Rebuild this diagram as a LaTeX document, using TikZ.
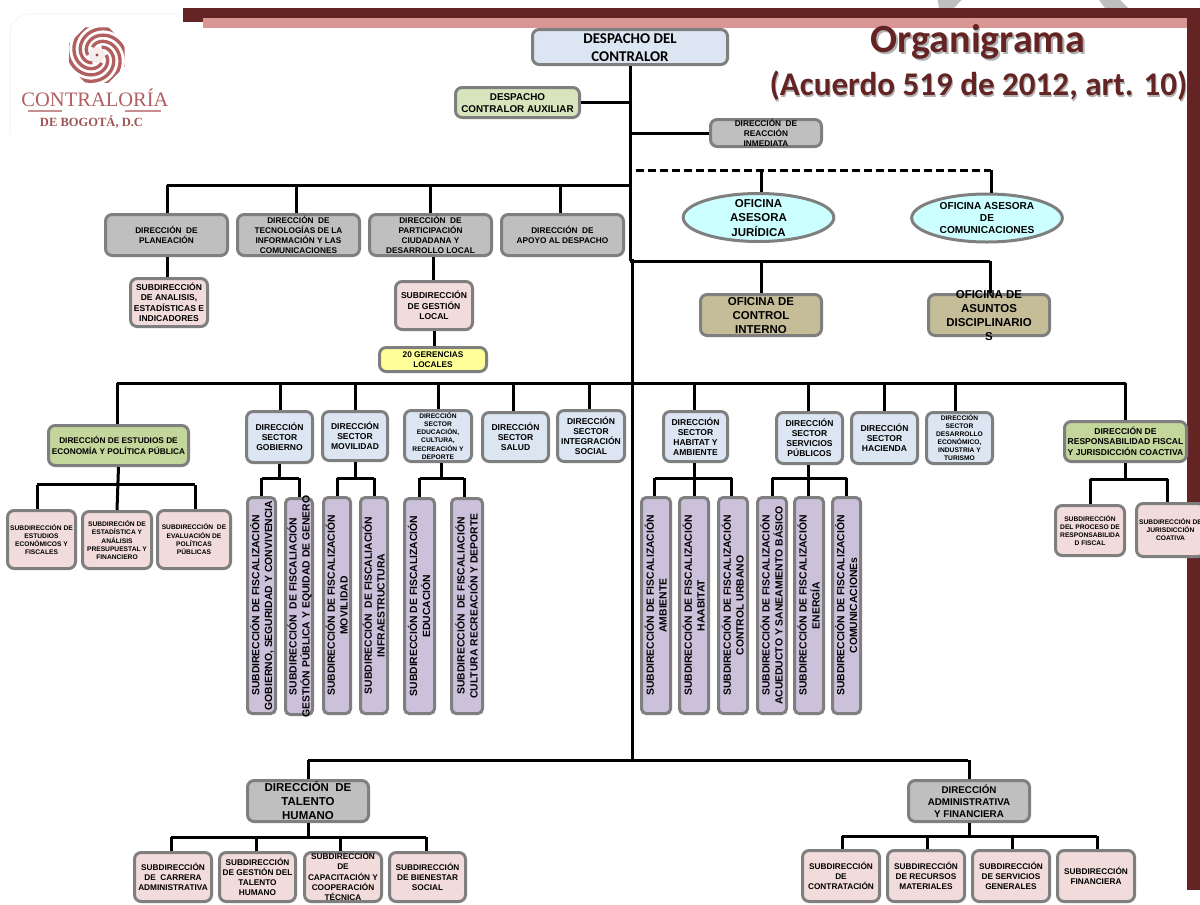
\documentclass[tikz,border=0pt]{standalone}
\usepackage{fontspec}
\usepackage{graphicx}
\setmainfont{Liberation Sans}
\newfontfamily\carlito{Carlito}
\newfontfamily\lserif{Liberation Serif}
\usetikzlibrary{shapes.geometric}
\definecolor{dark}{HTML}{632423}
\definecolor{rose}{HTML}{D99694}
\definecolor{cblue}{HTML}{DCE6F2}
\definecolor{cpink}{HTML}{F2DCDB}
\definecolor{cgreen}{HTML}{C3D69B}
\definecolor{clgreen}{HTML}{D7E4BC}
\definecolor{cgrey}{HTML}{BFBFBF}
\definecolor{cpurple}{HTML}{CCC1DA}
\definecolor{ctan}{HTML}{C4BD97}
\definecolor{ccyan}{HTML}{CCFFFF}
\definecolor{cyell}{HTML}{FFFF99}
\definecolor{cedge}{HTML}{7F7F7F}
\definecolor{logoc}{HTML}{B25F5F}
\newcommand\fz[2]{\fontsize{#1}{#2}\selectfont\bfseries}
\newcommand\tx[1]{\makebox[0pt]{\smash{\raisebox{-.4em}{\begin{tabular}{@{}c@{}}#1\end{tabular}}}}}
\newcommand\bx[7][]{\node[bxs,#1,minimum width={(#5-#3-3)*0.75pt},minimum height={(#6-#4-3)*0.75pt}] (#2) at ({(#3+#5)/2},{(#4+#6)/2}) {\tx{#7}};}
\newcommand\vb[6]{\node[bxs,vert,minimum width={(#4-#2-3)*0.75pt},minimum height={(#5-#3-3)*0.75pt}] (#1) at ({(#2+#4)/2},{(#3+#5)/2}) {\rotatebox{90}{\tx{#6}}};}
\newcommand\dr[3]{\draw[conn] ([xshift=#3*0.75pt]#2.north |- #1) -- ([xshift=#3*0.75pt]#2.north);}
\tikzset{
 bxs/.style={draw=cedge,line width=2.25pt,rounded corners=5pt,inner sep=0pt,text=black},
 vert/.style={fill=cpurple,rounded corners=3.5pt,font=\fontsize{7.8}{9.5}\selectfont\bfseries},
 conn/.style={draw=black,line width=2.25pt},
 sub/.style={fill=cpink},
 blue/.style={fill=cblue},
 grey/.style={fill=cgrey},
 fa/.style={font=\fz{6.2}{7.5}},
 fb/.style={font=\fz{5}{6}},
 fc/.style={font=\fz{8.6}{10.5}},
 fd/.style={font=\fz{6.4}{7.5}},
}
\begin{document}
\begin{tikzpicture}[x=0.75pt,y=-0.75pt]
\clip (0,0) rectangle (1200,904);
\fill[white] (0,0) rectangle (1200,904);
% top decoration
\fill[gray!50] (937.5,0) -- (961.5,0) -- (954,8) -- (939,8) -- cycle;
\fill[gray!50] (1099,0) -- (1120,0) -- (1128,8) -- (1105,8) -- cycle;
\fill[rose] (203,18) rectangle (1187,28);
\fill[dark] (183,8) rectangle (1200,18);
\fill[dark] (183,18) rectangle (203,22);
\fill[dark] (1187,8) rectangle (1200,890);
% logo
\draw[draw=red!20!orange!6,line width=1pt] (10,135) -- (10,35) .. controls (10,22) and (18,14) .. (32,14) -- (180,14);
\begin{scope}
\clip (97,55) ++(-22.5:30) -- ++(90:23) -- ++(135:23) -- ++(180:23) -- ++(225:23) -- ++(270:23) -- ++(315:23) -- ++(0:23) -- cycle;
\foreach \a in {0,60,...,300}{
  \draw[logoc,line width=2.5pt,shift={(97,55)}] plot[domain=0:260,samples=40,smooth] ({\a+\x}:{9+\x*0.11});
}
\end{scope}
\fill[logoc!12] (97,55) circle (8);
\fill[logoc!80!black] (97,55) circle (1.7);
\node[text=logoc,font=\lserif\fontsize{15.4}{18}\selectfont,inner sep=0pt] (logoa) at (95,98) {CONTRALORÍA};
\draw[logoc!70,line width=.8pt] (28,111) -- (62,111) (125,111) -- (161,111);
\node[text=logoc!90!black,font=\lserif\fontsize{9.4}{12}\selectfont\bfseries,inner sep=0pt] (logob) at (91.5,122) {DE BOGOTÁ, D.C};
% title
\node[text=gray!60,font=\carlito\fontsize{30}{33}\selectfont\bfseries,inner sep=0pt] (tits) at (979.5,43.5) {Organigrama};
\node[text=dark,font=\carlito\fontsize{30}{33}\selectfont\bfseries,inner sep=0pt] (tit) at (978,42) {Organigrama};
\node[text=gray!60,font=\carlito\fontsize{24.8}{27}\selectfont\bfseries,inner sep=0pt] (tit2s) at (979.5,87.5) {(Acuerdo 519 de 2012, art. 10)};
\node[text=dark,font=\carlito\fontsize{24.8}{27}\selectfont\bfseries,inner sep=0pt] (tit2) at (978.5,86) {(Acuerdo 519 de 2012, art. 10)};
% top nodes
\bx[blue,font=\carlito\fontsize{11.2}{13.5}\selectfont\bfseries]{desp}{531}{28}{729}{66}{DESPACHO DEL\\CONTRALOR}
\bx[fill=clgreen,font=\fz{7.4}{9}]{aux}{454}{86}{581}{119}{DESPACHO\\CONTRALOR AUXILIAR}
\bx[grey,fa]{reac}{709}{118}{823}{148}{DIRECCIÓN~ DE\\REACCIÓN\\INMEDIATA}
% row 1
\bx[grey,fa]{plan}{104}{213}{229}{257}{DIRECCIÓN~ DE\\PLANEACIÓN}
\bx[grey,fa]{tic}{236}{213}{361}{257}{DIRECCIÓN~ DE\\TECNOLOGÍAS DE LA\\INFORMACIÓN Y LAS\\COMUNICACIONES}
\bx[grey,fa]{part}{368}{213}{493}{257}{DIRECCIÓN~ DE\\PARTICIPACIÓN\\CIUDADANA Y\\DESARROLLO LOCAL}
\bx[grey,fa]{apoyo}{500}{213}{625}{257}{DIRECCIÓN~ DE\\APOYO AL DESPACHO}
\bx[sub,fd]{sana}{129}{277}{209}{328}{SUBDIRECCIÓN\\DE ANALISIS,\\ESTADÍSTICAS E\\INDICADORES}
\bx[sub,fd]{sges}{394}{280}{474}{331}{SUBDIRECCIÓN\\DE GESTIÓN\\LOCAL}
\bx[fill=cyell,fa]{ger}{378}{346}{488}{373}{20 GERENCIAS\\LOCALES}
% oficinas
\node[ellipse,draw=cedge,line width=2.25pt,fill=ccyan,inner sep=0pt,minimum width=113pt,minimum height=36pt,font=\fz{8.6}{10.5}] (jur) at (758.5,217.5) {\tx{OFICINA\\ASESORA\\JURÍDICA}};
\node[ellipse,draw=cedge,line width=2.25pt,fill=ccyan,inner sep=0pt,minimum width=113pt,minimum height=36pt,font=\fz{7.6}{9}] (com) at (987,218) {\tx{OFICINA ASESORA\\DE\\COMUNICACIONES}};
\bx[fill=ctan,fc]{cint}{699}{293}{823}{337}{OFICINA DE\\CONTROL\\INTERNO}
\bx[fill=ctan,fc]{asun}{927}{293}{1051}{337}{OFICINA DE\\ASUNTOS\\DISCIPLINARIO\\S}
% row 2
\bx[fill=cgreen,fa]{est}{47}{424}{190}{467}{DIRECCIÓN DE ESTUDIOS DE\\ECONOMÍA Y POLÍTICA PÚBLICA}
\bx[blue,fd]{gob}{245}{410}{314}{464}{DIRECCIÓN\\SECTOR\\GOBIERNO}
\bx[blue,fd]{mov}{321}{410}{389}{462}{DIRECCIÓN\\SECTOR\\MOVILIDAD}
\bx[blue,fb]{edu}{403}{409}{473}{463}{DIRECCIÓN\\SECTOR\\EDUCACIÓN,\\CULTURA,\\RECREACIÓN Y\\DEPORTE}
\bx[blue,fd]{sal}{481}{411}{550}{463}{DIRECCIÓN\\SECTOR\\SALUD}
\bx[blue,fd]{inte}{556}{409}{626}{463}{DIRECCIÓN\\SECTOR\\INTEGRACIÓN\\SOCIAL}
\bx[blue,fd]{hab}{662}{410}{729}{463}{DIRECCIÓN\\SECTOR\\HABITAT Y\\AMBIENTE}
\bx[blue,fd]{ser}{775}{411}{844}{465}{DIRECCIÓN\\SECTOR\\SERVICIOS\\PÚBLICOS}
\bx[blue,fd]{hac}{850}{411}{919}{465}{DIRECCIÓN\\SECTOR\\HACIENDA}
\bx[blue,fb]{des}{925}{411}{994}{465}{DIRECCIÓN\\SECTOR\\DESARROLLO\\ECONÓMICO,\\INDUSTRIA Y\\TURISMO}
\bx[fill=cgreen,fd]{resp}{1063}{420}{1188}{463}{DIRECCIÓN DE\\RESPONSABILIDAD FISCAL\\Y JURISDICCIÓN COACTIVA}
% subs estudios
\bx[sub,fb]{se1}{6}{509}{77}{570}{SUBDIRECCIÓN DE\\ESTUDIOS\\ECONÓMICOS Y\\FISCALES}
\bx[sub,fb]{se2}{81}{510}{153}{570}{SUBDIRECIÓN DE\\ESTADÍSTICA Y\\ANÁLISIS\\PRESUPUESTAL Y\\FINANCIERO}
\bx[sub,fb]{se3}{156}{509}{232}{570}{SUBDIRECCIÓN~ DE\\EVALUACIÓN DE\\POLÍTICAS\\PÚBLICAS}
% subs responsabilidad
\bx[sub,fb]{sr1}{1054}{504}{1126}{557}{SUBDIRECCIÓN\\DEL PROCESO DE\\RESPONSABILIDA\\D FISCAL}
\bx[sub,fb]{sr2}{1135}{502}{1206}{558}{SUBDIRECCIÓN DE\\JURISDICCIÓN\\COATIVA}
% vertical
\vb{v1}{246}{496}{277}{715}{SUBDIRECCIÓN DE FISCALIZACIÓN\\GOBIERNO, SEGURIDAD Y CONVIVENCIA}
\vb{v2}{284}{497}{314}{716}{SUBDIRECCIÓN~ DE FISCALIACIÓN\\GESTIÓN PÚBLICA Y EQUIDAD DE GENERO}
\vb{v3}{322}{496}{352}{715}{SUBDIRECCIÓN DE FISCALIZACIÓN\\MOVILIDAD}
\vb{v4}{359}{496}{389}{715}{SUBDIRECCIÓN~ DE FISCALIACIÓN\\INFRAESTRUCTURA}
\vb{v5}{403}{497}{436}{715}{SUBDIRECCIÓN DE FISCALIZACIÓN\\EDUCACIÓN}
\vb{v6}{450}{497}{484}{715}{SUBDIRECCIÓN~ DE FISCALIACIÓN\\CULTURA RECREACIÓN Y DEPORTE}
\vb{v7}{640}{496}{672}{715}{SUBDIRECCIÓN DE FISCALIZACIÓN\\AMBIENTE}
\vb{v8}{678}{496}{710}{715}{SUBDIRECCIÓN DE FISCALIZACIÓN\\HAABITAT}
\vb{v9}{717}{496}{749}{715}{SUBDIRECCIÓN DE FISCALIZACIÓN\\CONTROL URBANO}
\vb{v10}{756}{496}{788}{715}{SUBDIRECCIÓN DE FISCALIZACIÓN\\ACUEDUCTO Y SANEAMIENTO BÁSICO}
\vb{v11}{793}{496}{825}{715}{SUBDIRECCIÓN DE FISCALIZACIÓN\\ENERGÍA}
\vb{v12}{831}{496}{862}{715}{SUBDIRECCIÓN DE FISCALIZACIÓN\\COMUNICACIONEs}
% bottom
\bx[grey,fc]{tal}{246}{779}{370}{823}{DIRECCIÓN~ DE\\TALENTO\\HUMANO}
\bx[grey,font=\fz{7.35}{9}]{adm}{907}{779}{1031}{823}{DIRECCIÓN\\ADMINISTRATIVA\\Y FINANCIERA}
\bx[sub,fa]{t1}{133}{851}{213}{903}{SUBDIRECCIÓN\\DE~ CARRERA\\ADMINISTRATIVA}
\bx[sub,fa]{t2}{218}{851}{297}{903}{SUBDIRECCIÓN\\DE GESTIÓN DEL\\TALENTO\\HUMANO}
\bx[sub,fa]{t3}{303}{851}{383}{903}{SUBDIRECCIÓN\\DE\\CAPACITACIÓN Y\\COOPERACIÓN\\TÉCNICA}
\bx[sub,fa]{t4}{388}{851}{467}{903}{SUBDIRECCIÓN\\DE BIENESTAR\\SOCIAL}
\bx[sub,fa]{a1}{801}{849}{881}{903}{SUBDIRECCIÓN\\DE\\CONTRATACIÓN}
\bx[sub,fa]{a2}{886}{849}{966}{903}{SUBDIRECCIÓN\\DE RECURSOS\\MATERIALES}
\bx[sub,fa]{a3}{971}{849}{1051}{903}{SUBDIRECCIÓN\\DE SERVICIOS\\GENERALES}
\bx[sub,fa]{a4}{1056}{849}{1136}{903}{SUBDIRECCIÓN\\FINANCIERA}
% junctions
\coordinate (j1) at (630,261);
\coordinate (j1b) at (632.5,259);
\coordinate (j2) at (632.5,760);
\coordinate (busa) at (630,185);
\coordinate (busb) at (990,261);
\coordinate (busc) at (117,383);
\coordinate (buscr) at (1126,383);
\coordinate (busd) at (308,760);
\coordinate (busdr) at (968,760);
\coordinate (dl) at (636,170);
\coordinate (dr) at (991,170);
\coordinate (dm) at (761,170);
\coordinate (be) at (118,484.5);
\coordinate (bel) at (37,484.5);
\coordinate (ber) at (195,484.5);
\coordinate (bg) at (281,478);
\coordinate (bm) at (355,478);
\coordinate (bd) at (441,478);
\coordinate (bh) at (694,478);
\coordinate (bs) at (808,478);
\coordinate (br) at (1126,479);
\coordinate (bt) at (303,837);
\coordinate (btl) at (171,837);
\coordinate (btr) at (426,837);
\coordinate (ba) at (965,836);
\coordinate (bal) at (842,836);
\coordinate (bar) at (1097,836);
\draw[conn] (desp.south) -- (j1);
\draw[conn] (j1b) -- (j2);
\draw[conn] (desp.south |- aux.east) -- (aux.east);
\draw[conn] (desp.south |- reac.west) -- (reac.west);
% dashed bus
\draw[conn,dash pattern=on 6.2pt off 2.8pt] (dl) -- (dr);
\draw[conn] (dm) -- (dm |- jur.north);
\draw[conn] (dr) -- (dr |- com.north);
% row 1 bus
\draw[conn] (busa) -- (plan.north |- busa);
\dr{busa}{plan}{0.5}\dr{busa}{tic}{-2}\dr{busa}{part}{0}\dr{busa}{apoyo}{-2}
\draw[conn] ([xshift=0.4pt]plan.south) -- ([xshift=0.4pt]plan.south |- sana.north);
\draw[conn] ([xshift=1.9pt]part.south) -- ([xshift=1.9pt]part.south |- sges.north);
\draw[conn] (sges.south) -- (sges.south |- ger.north);
% oficinas
\draw[conn] (j1) -- (busb);
\draw[conn] (cint.north |- j1) -- (cint.north);
\draw[conn] (busb) -- (busb |- asun.north);
% row 2 bus
\draw[conn] (busc) -- (buscr);
\dr{busc}{est}{-1.5}\dr{busc}{gob}{0.5}\dr{busc}{mov}{0}\dr{busc}{edu}{0}\dr{busc}{sal}{-2.5}\dr{busc}{inte}{-2}
\dr{busc}{hab}{-1.5}\dr{busc}{ser}{-1.5}\dr{busc}{hac}{0}\dr{busc}{des}{-4.5}\dr{busc}{resp}{0}
% estudios
\draw[conn] (est.south) -- (se2.north);
\draw[conn] (bel) -- (ber);
\draw[conn] (bel) -- (bel |- se1.north);
\draw[conn] (ber) -- (ber |- se3.north);
% gobierno, movilidad, educacion
\draw[conn] (gob.south) -- (gob.south |- bg);
\draw[conn] (v1.north |- bg) -- (v2.north |- bg);
\draw[conn] (v1.north |- bg) -- (v1.north);
\draw[conn] (v2.north |- bg) -- (v2.north);
\draw[conn] (mov.south) -- (mov.south |- bm);
\draw[conn] (v3.north |- bm) -- (v4.north |- bm);
\draw[conn] (v3.north |- bm) -- (v3.north);
\draw[conn] (v4.north |- bm) -- (v4.north);
\draw[conn] (bd |- edu.south) -- (bd);
\draw[conn] (v5.north |- bd) -- ([xshift=-2.2pt]v6.north |- bd);
\draw[conn] (v5.north |- bd) -- (v5.north);
\draw[conn] ([xshift=-2.2pt]v6.north |- bd) -- ([xshift=-2.2pt]v6.north);
% habitat, servicios
\draw[conn] (bh |- hab.south) -- (bh |- v8.north);
\draw[conn] ([xshift=-1pt]v7.north |- bh) -- ([xshift=-1pt]v9.north |- bh);
\draw[conn] ([xshift=-1pt]v7.north |- bh) -- ([xshift=-1pt]v7.north);
\draw[conn] ([xshift=-1pt]v9.north |- bh) -- ([xshift=-1pt]v9.north);
\draw[conn] (bs |- ser.south) -- (bs |- v11.north);
\draw[conn] (v10.north |- bs) -- (v12.north |- bs);
\draw[conn] (v10.north |- bs) -- (v10.north);
\draw[conn] (v12.north |- bs) -- (v12.north);
% responsabilidad
\draw[conn] (resp.south) -- (resp.south |- br);
\draw[conn] (sr1.north |- br) -- ([xshift=-2pt]sr2.north |- br);
\draw[conn] (sr1.north |- br) -- (sr1.north);
\draw[conn] ([xshift=-2pt]sr2.north |- br) -- ([xshift=-2pt]sr2.north);
% bottom
\draw[conn] (busd) -- (busdr);
\draw[conn] (tal.north |- busd) -- (tal.north);
\draw[conn] (adm.north |- busdr) -- (adm.north);
\draw[conn] (tal.south) -- (tal.south |- bt);
\draw[conn] (btl) -- (btr);
\dr{bt}{t1}{-2}\dr{bt}{t2}{-1.5}\dr{bt}{t3}{-3}\dr{bt}{t4}{-1.5}
\draw[conn] (adm.south) -- (adm.south |- ba);
\draw[conn] (bal) -- (bar);
\dr{ba}{a1}{1}\dr{ba}{a2}{1}\dr{ba}{a3}{1}\dr{ba}{a4}{1}
\end{tikzpicture}
\end{document}
